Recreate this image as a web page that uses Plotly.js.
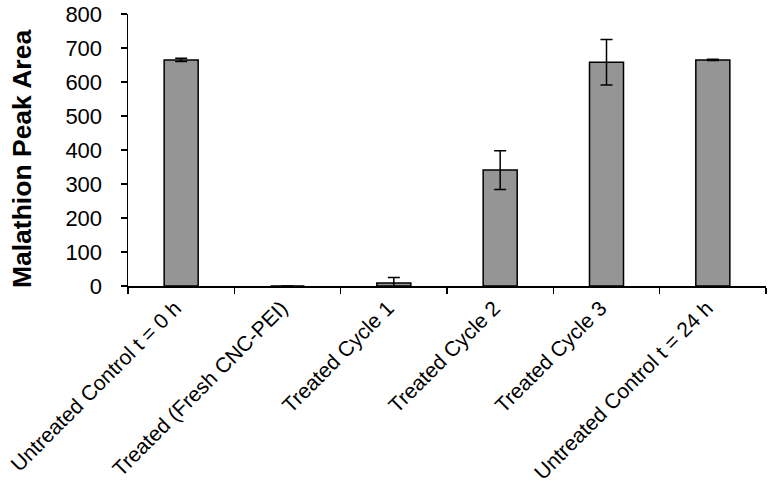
<!DOCTYPE html>
<html>
<head>
<meta charset="utf-8">
<script src="https://cdn.plot.ly/plotly-3.0.1.min.js"></script>
<style>
  html, body { margin: 0; padding: 0; background: #fff; }
  #chart { width: 769px; height: 485px; }
</style>
</head>
<body>
<div id="chart"></div>
<script>
// samples along the x axis
const categories = [
    "Untreated Control t = 0 h",
    "Treated (Fresh CNC-PEI)",
    "Treated Cycle 1",
    "Treated Cycle 2",
    "Treated Cycle 3",
    "Untreated Control t = 24 h"
];
// malathion peak area
const peakArea = [665, 0, 9, 341, 658, 665];
const peakErr = [5, 0, 16, 57, 67, 2];

const yTicks = [0, 100, 200, 300, 400, 500, 600, 700, 800];
const yTitle = "Malathion Peak Area";

const font = "Liberation Sans, Arial, Helvetica, sans-serif";

Plotly.newPlot("chart", [{
    type: "bar",
    x: categories,
    y: peakArea,
    marker: { color: "#959595", line: { color: "#000", width: 1.5 } },
    error_y: {
        type: "data",
        array: peakErr,
        visible: true,
        color: "#000",
        thickness: 1.5,
        width: 6
    },
    hoverinfo: "none"
}], {
    width: 769,
    height: 485,
    margin: { l: 128, r: 3, t: 14, b: 199 },
    paper_bgcolor: "#fff",
    plot_bgcolor: "#fff",
    bargap: 0.68,
    showlegend: false,
    font: { family: font, color: "#000" },
    xaxis: {
        type: "category",
        showline: true,
        linecolor: "#000",
        linewidth: 1.5,
        ticks: "outside",
        tickson: "boundaries",
        ticklen: 6,
        tickwidth: 1.5,
        tickcolor: "#000",
        tickangle: -45,
        ticklabelshift: -6,
        tickfont: { size: 21, family: font },
        showgrid: false,
        zeroline: false
    },
    yaxis: {
        range: [0, 800],
        tickvals: yTicks,
        showline: true,
        linecolor: "#000",
        linewidth: 1.5,
        ticks: "outside",
        ticklen: 6,
        tickwidth: 1.5,
        tickcolor: "#000",
        ticklabelstandoff: 14,
        tickfont: { size: 22, family: font },
        showgrid: false,
        zeroline: false
    },
    // y title as an annotation so it can sit a little below the middle, as in the original
    annotations: [{
        text: "<b>" + yTitle + "</b>",
        textangle: -90,
        xref: "paper", yref: "paper",
        x: -0.166, y: 0.467,
        xanchor: "center", yanchor: "middle",
        showarrow: false,
        font: { size: 26.5, family: font, color: "#000" }
    }]
}, { displayModeBar: false, staticPlot: true });
</script>
</body>
</html>
